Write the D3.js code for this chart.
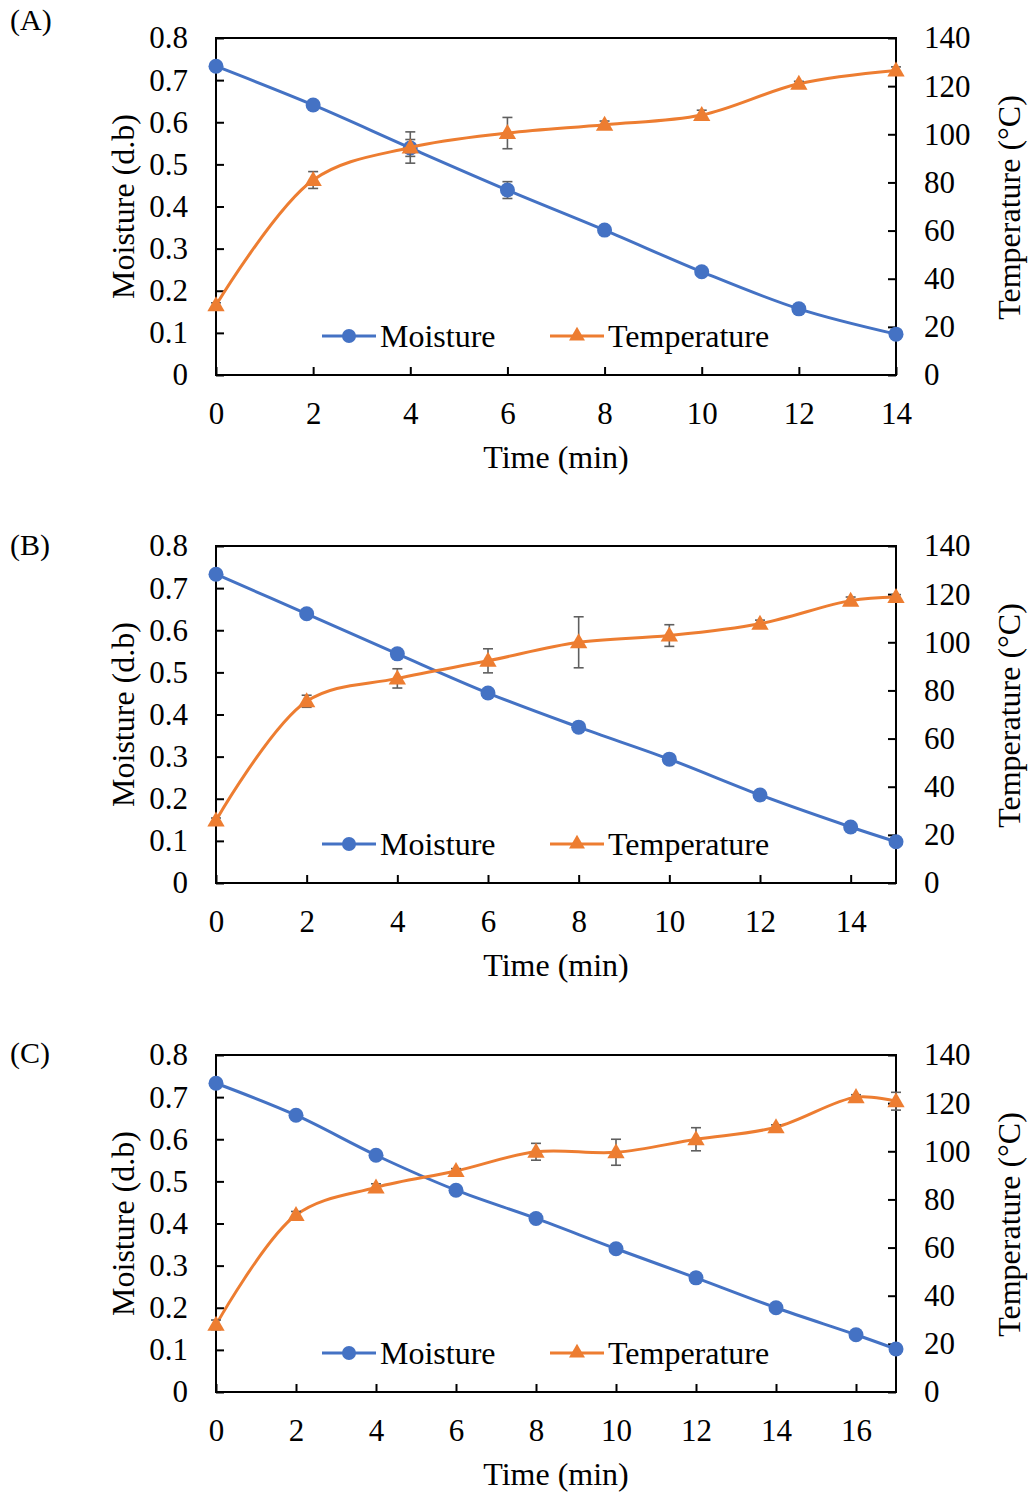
<!DOCTYPE html>
<html>
<head>
<meta charset="utf-8">
<script src="https://cdn.jsdelivr.net/npm/d3@7/dist/d3.min.js"></script>
<style>
  body { margin: 0; background: #fff; }
  text { font-family: "Liberation Serif", "Times New Roman", serif; fill: #000; }
</style>
</head>
<body>
<svg id="chart"></svg>
<script>
// values
var panelLabels = ["(A)", "(B)", "(C)"];
var xMaxes = [14, 15, 17];

var timeA = [0, 2, 4, 6, 8, 10, 12, 14];
var moistA = [0.733, 0.641, 0.539, 0.439, 0.344, 0.245, 0.157, 0.097];
var moistErrA = [0, 0, 0.02, 0.02, 0, 0, 0, 0];
var tempA = [29, 81, 94.5, 100.5, 104, 108, 121, 126.5];
var tempErrA = [1, 3.5, 6.5, 6.5, 1.5, 2, 1, 1.5];

var timeB = [0, 2, 4, 6, 8, 10, 12, 14, 15];
var moistB = [0.733, 0.639, 0.544, 0.451, 0.37, 0.294, 0.209, 0.133, 0.098];
var moistErrB = [0, 0, 0, 0, 0, 0, 0, 0, 0];
var tempB = [26, 75.5, 85, 92.3, 100, 102.8, 107.7, 117.3, 118.8];
var tempErrB = [1, 2.5, 4, 5, 10.6, 4.5, 1.5, 1.5, 1];

var timeC = [0, 2, 4, 6, 8, 10, 12, 14, 16, 17];
var moistC = [0.733, 0.657, 0.562, 0.479, 0.412, 0.34, 0.271, 0.2, 0.136, 0.102];
var moistErrC = [0, 0, 0, 0, 0, 0, 0, 0, 0, 0];
var tempC = [27.9, 73.5, 85, 91.8, 99.8, 99.6, 105, 110, 122.5, 120.8];
var tempErrC = [2, 1.5, 1.5, 1, 3.5, 5.4, 4.8, 1, 1, 3.7];

var moistTicks = [0, 0.1, 0.2, 0.3, 0.4, 0.5, 0.6, 0.7, 0.8];
var tempTicks = [0, 20, 40, 60, 80, 100, 120, 140];
var seriesNames = ["Moisture", "Temperature"];

var blue = "#4472C4", orange = "#ED7D31", errColor = "#5f5f5f";

var W = 1033, H = 1494;
var left = 216, right = 896, plotH = 337;
var panelTops = [38, 546, 1055];
var labelBaselines = [30, 555, 1063];

var svg = d3.select("#chart").attr("width", W).attr("height", H);

var panels = [
  {time: timeA, moist: moistA, moistErr: moistErrA, temp: tempA, tempErr: tempErrA},
  {time: timeB, moist: moistB, moistErr: moistErrB, temp: tempB, tempErr: tempErrB},
  {time: timeC, moist: moistC, moistErr: moistErrC, temp: tempC, tempErr: tempErrC}
];

panels.forEach(function(p, i) {
  var top = panelTops[i], bottom = top + plotH;
  var g = svg.append("g");

  var x = d3.scaleLinear().domain([0, xMaxes[i]]).range([left, right]);
  var yM = d3.scaleLinear().domain([0, 0.8]).range([bottom, top]);
  var yT = d3.scaleLinear().domain([0, 140]).range([bottom, top]);
  var xTicks = d3.range(0, xMaxes[i] + 0.01, 2);

  // frame
  g.append("rect")
    .attr("x", left).attr("y", top)
    .attr("width", right - left).attr("height", plotH)
    .attr("fill", "none").attr("stroke", "#000").attr("stroke-width", 2);

  var axL = g.append("g").attr("transform", `translate(${left},0)`)
    .call(d3.axisLeft(yM).tickValues(moistTicks).tickSize(-8).tickPadding(28)
      .tickFormat(d => d === 0 ? "0" : d.toFixed(1)));
  var axR = g.append("g").attr("transform", `translate(${right},0)`)
    .call(d3.axisRight(yT).tickValues(tempTicks).tickSize(-8).tickPadding(28));
  var axB = g.append("g").attr("transform", `translate(0,${bottom})`)
    .call(d3.axisBottom(x).tickValues(xTicks).tickSize(-8).tickPadding(27));

  [axL, axR, axB].forEach(function(ax) {
    ax.select(".domain").remove();
    ax.selectAll(".tick line").attr("stroke", "#000").attr("stroke-width", 2);
    ax.selectAll(".tick text").attr("font-size", 31).attr("font-family", "Liberation Serif");
  });

  // axis titles
  g.append("text")
    .attr("transform", `translate(134,${(top + bottom) / 2}) rotate(-90)`)
    .attr("text-anchor", "middle").attr("font-size", 32)
    .text("Moisture (d.b)");
  g.append("text")
    .attr("transform", `translate(1020,${(top + bottom) / 2 + 1}) rotate(-90)`)
    .attr("text-anchor", "middle").attr("font-size", 32)
    .text("Temperature (°C)");
  g.append("text")
    .attr("x", (left + right) / 2).attr("y", bottom + 93)
    .attr("text-anchor", "middle").attr("font-size", 32)
    .text("Time (min)");
  g.append("text")
    .attr("x", 10).attr("y", labelBaselines[i])
    .attr("font-size", 30)
    .text(panelLabels[i]);

  var mData = p.time.map((t, k) => ({t: t, v: p.moist[k], e: p.moistErr[k]}));
  var tData = p.time.map((t, k) => ({t: t, v: p.temp[k], e: p.tempErr[k]}));

  var lineM = d3.line().x(d => x(d.t)).y(d => yM(d.v)).curve(d3.curveCatmullRom.alpha(0.5));
  var lineT = d3.line().x(d => x(d.t)).y(d => yT(d.v)).curve(d3.curveCatmullRom.alpha(0.5));

  // moisture series
  g.append("path").datum(mData).attr("d", lineM)
    .attr("fill", "none").attr("stroke", blue).attr("stroke-width", 3);
  drawErr(g, mData.filter(d => d.e > 0), x, yM);
  g.selectAll(".mdot").data(mData).enter().append("circle")
    .attr("cx", d => x(d.t)).attr("cy", d => yM(d.v)).attr("r", 7.5)
    .attr("fill", blue);

  // temperature series
  g.append("path").datum(tData).attr("d", lineT)
    .attr("fill", "none").attr("stroke", orange).attr("stroke-width", 3);
  drawErr(g, tData.filter(d => d.e > 0), x, yT);
  var tri = d3.symbol().type(d3.symbolTriangle).size(130);
  g.selectAll(".tdot").data(tData).enter().append("path")
    .attr("d", tri)
    .attr("transform", d => `translate(${x(d.t)},${yT(d.v) + 1})`)
    .attr("fill", orange);

  // legend
  var ly = bottom - 39;
  var leg = [
    {x0: 322, color: blue, name: seriesNames[0], shape: "circle"},
    {x0: 550, color: orange, name: seriesNames[1], shape: "tri"}
  ];
  leg.forEach(function(l) {
    g.append("line").attr("x1", l.x0).attr("x2", l.x0 + 54)
      .attr("y1", ly).attr("y2", ly)
      .attr("stroke", l.color).attr("stroke-width", 3);
    if (l.shape === "circle") {
      g.append("circle").attr("cx", l.x0 + 27).attr("cy", ly).attr("r", 7).attr("fill", l.color);
    } else {
      g.append("path").attr("d", d3.symbol().type(d3.symbolTriangle).size(110))
        .attr("transform", `translate(${l.x0 + 27},${ly})`).attr("fill", l.color);
    }
    g.append("text").attr("x", l.x0 + 58).attr("y", ly + 11)
      .attr("font-size", 32).text(l.name);
  });
});

function drawErr(g, data, x, y) {
  var eg = g.append("g").attr("stroke", errColor).attr("stroke-width", 1.6);
  data.forEach(function(d) {
    var cx = x(d.t), y0 = y(d.v - d.e), y1 = y(d.v + d.e);
    eg.append("line").attr("x1", cx).attr("x2", cx).attr("y1", y0).attr("y2", y1);
    eg.append("line").attr("x1", cx - 5).attr("x2", cx + 5).attr("y1", y0).attr("y2", y0);
    eg.append("line").attr("x1", cx - 5).attr("x2", cx + 5).attr("y1", y1).attr("y2", y1);
  });
}
</script>
</body>
</html>
